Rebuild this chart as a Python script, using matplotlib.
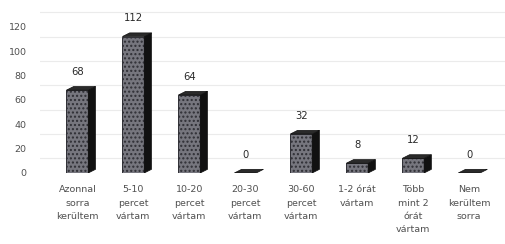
# Várakozási idő - 3D-s oszlopdiagram utánzata
import matplotlib
matplotlib.use("Agg")
import matplotlib.pyplot as plt
from matplotlib.patches import Polygon
import numpy as np

CATEGORIES = [
    "Azonnal\nsorra\nkerültem",
    "5-10\npercet\nvártam",
    "10-20\npercet\nvártam",
    "20-30\npercet\nvártam",
    "30-60\npercet\nvártam",
    "1-2 órát\nvártam",
    "Több\nmint 2\nórát\nvártam",
    "Nem\nkerültem\nsorra",
]
VALUES = [68, 112, 64, 0, 32, 8, 12, 0]
Y_TICKS = [0, 20, 40, 60, 80, 100, 120]

FRONT = "#76767e"
SIDE = "#111111"
TOP = "#2a2a2a"
TEXT = "#505050"

W = 0.39      # elülső lap szélessége
DX = 0.13     # mélység x irányban
DY = 3.0      # mélység y irányban

fig = plt.figure(figsize=(5.05, 2.44), dpi=100)
fig.patch.set_facecolor("white")
ax = fig.add_axes([0.08, 0.291, 0.92, 0.709])
ax.set_xlim(-0.66, 7.64)
ax.set_ylim(0, 142)

# halvány rácsvonalak a hátsó falon
for v in Y_TICKS[1:] + [140]:
    ax.axhline(v - 8, color="#ebebeb", linewidth=0.8, zorder=0)

x = np.arange(len(VALUES))
for xi, v in zip(x, VALUES):
    l, r = xi - W / 2, xi + W / 2
    if v > 0:
        ax.bar(xi, v, width=W, color=FRONT, edgecolor="#2e2e34",
               hatch="....", linewidth=0.7, zorder=3)
        ax.add_patch(Polygon([(r, 0), (r + DX, DY), (r + DX, v + DY), (r, v)],
                             closed=True, facecolor=SIDE, edgecolor=SIDE,
                             linewidth=0.5, zorder=3))
    ax.add_patch(Polygon([(l, v), (l + DX, v + DY), (r + DX, v + DY), (r, v)],
                         closed=True, facecolor=TOP, edgecolor="#111111",
                         linewidth=0.5, zorder=4))
    ax.annotate(str(v), (xi, v), xytext=(0, 13), textcoords="offset points",
                ha="center", va="center", fontsize=7.2, color="#2a2a2a")

ax.set_xticks(x)
ax.set_xticklabels(CATEGORIES, fontsize=6.8, color=TEXT, linespacing=1.6,
                   va="top")
ax.set_yticks(Y_TICKS)
ax.set_yticklabels([str(t) for t in Y_TICKS], fontsize=6.8, color=TEXT)
ax.tick_params(axis="x", length=0, pad=9)
ax.tick_params(axis="y", length=0, pad=10)
for s in ax.spines.values():
    s.set_visible(False)

fig.savefig("out.png", dpi=100, facecolor="white")
